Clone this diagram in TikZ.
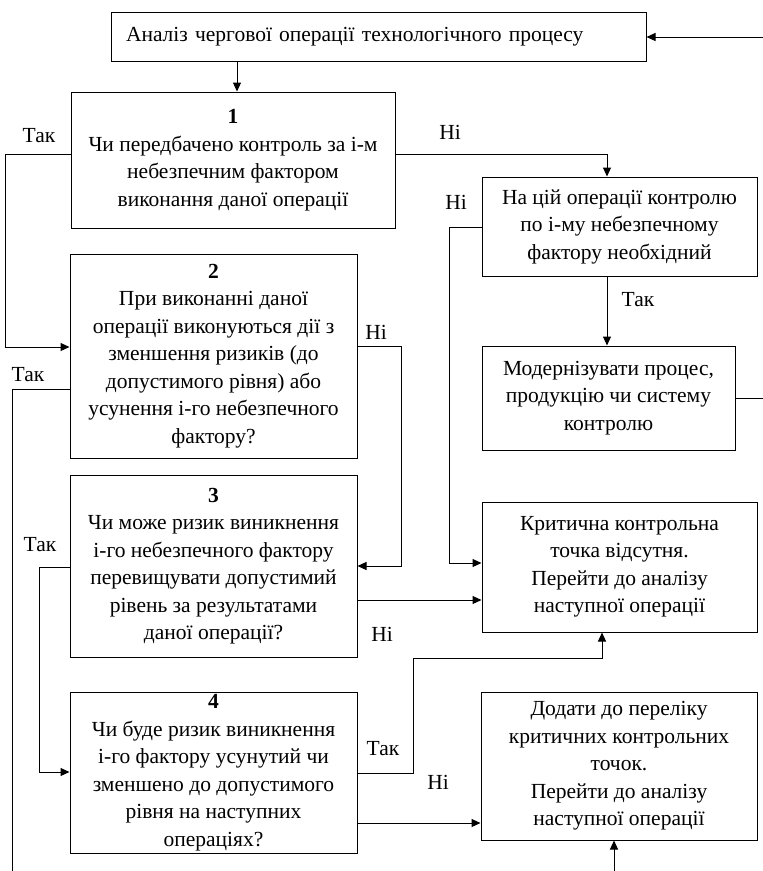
\documentclass[tikz,border=0pt]{standalone}
\usepackage{fontspec}
\setmainfont{Liberation Serif}
\usetikzlibrary{arrows.meta}
\usetikzlibrary{positioning}
\tikzset{
  bx/.style={rectangle, draw=black, line width=1pt, align=center, inner sep=0pt},
  lb/.style={inner sep=0pt},
  ar/.style={-{Triangle[length=9pt,width=8pt]}, line width=1pt},
  ln/.style={line width=1pt}
}

\begin{document}
\begin{tikzpicture}[x=1pt, y=-1pt, font=\fontsize{21.5}{27.5}\selectfont]
\useasboundingbox (0,0) rectangle (763,871);
\node[bx, minimum width=535, minimum height=49, align=left, text width=505] (anal) at (378.5,36.5) {Аналіз чергової операції технологічного процесу};
\node[bx, minimum width=324, minimum height=136] (q1) at (233,160) {\textbf{1}\\Чи передбачено контроль за і-м\\небезпечним фактором\\виконання даної операції};
\node[bx, minimum width=287, minimum height=204] (q2) at (213.5,356) {\textbf{2}\\При виконанні даної\\операції виконуються дії з\\зменшення ризиків (до\\допустимого рівня) або\\усунення і-го небезпечного\\фактору?};
\node[bx, minimum width=287, minimum height=182] (q3) at (213.5,566) {\textbf{3}\\Чи може ризик виникнення\\і-го небезпечного фактору\\перевищувати допустимий\\рівень за результатами\\даної операції?};
\node[bx, minimum width=287, minimum height=161] (q4) at (213.5,772.5) {\textbf{4}\\Чи буде ризик виникнення\\ і-го фактору усунутий чи\\зменшено до допустимого\\рівня на наступних\\операціях?};
\node[bx, minimum width=275, minimum height=99] (need) at (619.5,226.5) {На цій операції контролю\\по і-му небезпечному\\фактору необхідний};
\node[bx, minimum width=253, minimum height=104] (modern) at (608.5,398) {Модернізувати процес,\\продукцію чи систему\\контролю};
\node[bx, minimum width=275, minimum height=130] (none) at (619.5,567) {Критична контрольна\\точка відсутня.\\Перейти до аналізу\\наступної операції};
\node[bx, minimum width=276, minimum height=148] (add) at (619,766) {Додати до переліку\\критичних контрольних\\точок.\\Перейти до аналізу\\наступної операції};

\coordinate (inT) at (763,37);
\coordinate (outM) at (763,398);
\coordinate (outB) at (12,871);
\coordinate (inB) at (614,871);

%
\draw[ar] (inT) -- (anal.east |- inT);
\draw[ar] (anal.south -| 237,0) -- (q1.north -| 237,0);
\draw[ar] (q1.west |- 0,154) -- (5,154) |- (q2.west |- 0,347);
\draw[ar] (q1.east |- 0,154) -| (need.north -| 607,0);
\draw[ar] (need.west |- 0,227) -- (449,227) |- (none.west |- 0,563);
\draw[ar] (need.south -| 607,0) -- (modern.north -| 607,0);
\draw[ln] (modern.east |- outM) -- (outM);
\draw[ar] (q2.east |- 0,346) -- (401,346) |- (q3.east |- 0,566);
\draw[ln] (q2.west |- 0,389) -- (12,389) -- (outB);
\draw[ar] (q3.east |- 0,600) -- (none.west |- 0,600);
\draw[ar] (q3.west |- 0,567) -- (39,567) |- (q4.west |- 0,772);
\draw[ar] (q4.east |- 0,773) -- (413,773) |- (602,658) -- (none.south -| 602,0);
\draw[ar] (q4.east |- 0,823) -- (add.west |- 0,823);
\draw[ar] (inB) -- (add.south -| inB);

\node[lb] (t1) at (39,136) {Так};
\node[lb] (n1) at (450,132) {Ні};
\node[lb] (n5) at (456,202) {Ні};
\node[lb] (t5) at (638,300) {Так};
\node[lb] (n2) at (376,332) {Ні};
\node[lb] (t2) at (28,375) {Так};
\node[lb] (t3) at (40,545) {Так};
\node[lb] (n3) at (382,634) {Ні};
\node[lb] (t4) at (383,749) {Так};
\node[lb] (n4) at (438,782) {Ні};
\end{tikzpicture}
\end{document}
